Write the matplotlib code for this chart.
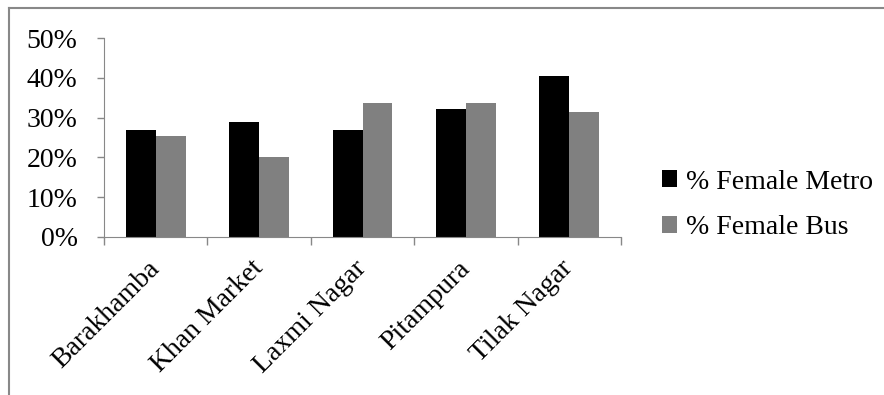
import numpy as np
import matplotlib.pyplot as plt
from matplotlib.lines import Line2D
from matplotlib.ticker import FuncFormatter

plt.rcParams['font.family'] = ['Liberation Serif', 'DejaVu Serif']

stations = ['Barakhamba', 'Khan Market', 'Laxmi Nagar', 'Pitampura', 'Tilak Nagar']
female_metro = [26.8, 28.8, 26.8, 32.2, 40.5]
female_bus = [25.3, 20.2, 33.6, 33.7, 31.3]

fig = plt.figure(figsize=(8.84, 3.95), dpi=100)
ax = fig.add_axes([104/884, 1-237/395, (621-104)/884, (237-38)/395])

x = np.arange(len(stations))
w = 0.29
ax.bar(x - w/2, female_metro, w, color='black', label='% Female Metro')
ax.bar(x + w/2, female_bus, w, color='#808080', label='% Female Bus')

ax.set_ylim(0, 50)
ax.set_yticks(np.arange(0, 51, 10))
ax.yaxis.set_major_formatter(FuncFormatter(lambda v, p: '%d%%' % v))
ax.set_xlim(-0.5, len(stations) - 0.5)

# ticks at category boundaries, labels at centres
ax.set_xticks(np.arange(-0.5, len(stations)), labels=[''] * (len(stations) + 1))
ax.set_xticks(x, minor=True)
ax.set_xticklabels(stations, minor=True, rotation=45, ha='right',
                   va='center', rotation_mode='anchor', fontsize=20)
ax.tick_params(axis='x', which='minor', length=0, pad=20)
ax.tick_params(axis='x', which='major', length=6, color='#888888', width=1)
ax.tick_params(axis='y', length=5, color='#888888', width=1, labelsize=20, pad=14)

for s in ['top', 'right']:
    ax.spines[s].set_visible(False)
for s in ['left', 'bottom']:
    ax.spines[s].set_color('#888888')

ax.legend(loc='center left', bbox_to_anchor=(662/884, 1-205/395),
          bbox_transform=fig.transFigure, frameon=False, borderpad=0,
          borderaxespad=0, fontsize=20, handlelength=0.55, handleheight=0.55,
          handletextpad=0.3, labelspacing=0.75)

# outer chart frame (top and left edges visible)
fig.add_artist(Line2D([9/884, 1], [1-8/395, 1-8/395], color='#888888', lw=1.5))
fig.add_artist(Line2D([9/884, 9/884], [0, 1-8/395], color='#888888', lw=1.5))

fig.savefig('out.png', dpi=100)
